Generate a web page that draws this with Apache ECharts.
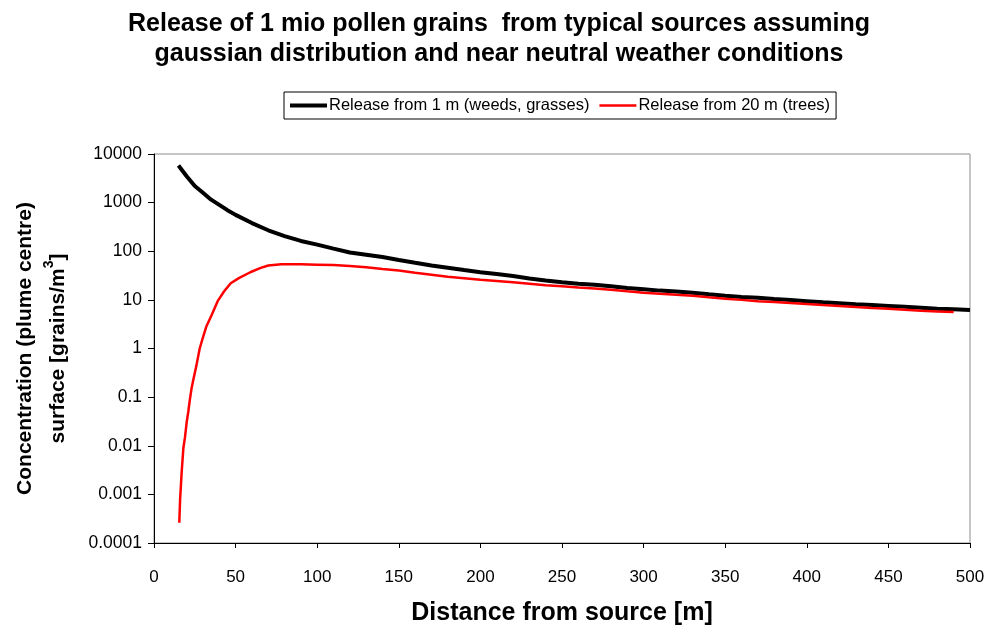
<!DOCTYPE html>
<html>
<head>
<meta charset="utf-8">
<script src="https://cdn.jsdelivr.net/npm/echarts@6/dist/echarts.min.js"></script>
<style>
  html, body { margin: 0; padding: 0; background: #fff; }
  #chart { width: 988px; height: 625px; }
</style>
</head>
<body>
<div id="chart"></div>
<script>
// distances (m) and concentrations
const weedsX = [15, 20, 25, 30, 35, 40, 45, 50, 60, 70, 80, 90, 100, 110, 120, 130, 140, 150,
  160, 170, 180, 190, 200, 210, 220, 230, 240, 250, 260, 270, 280, 290, 300, 310, 320, 330,
  340, 350, 360, 370, 380, 390, 400, 410, 420, 430, 440, 450, 460, 470, 480, 490, 500]
const weedsY = [5800, 3500, 2200, 1600, 1150, 900, 700, 560, 380, 270, 205, 163, 137, 113, 94, 85, 76, 66,
  58, 51, 46, 41, 37, 34, 31, 27.5, 25, 23, 21.5, 20.5, 19, 17.5, 16.5, 15.5, 14.8, 14,
  13, 12.2, 11.5, 11, 10.4, 9.9, 9.4, 8.9, 8.5, 8.1, 7.8, 7.5, 7.2, 6.9, 6.6, 6.4, 6.2]

const treesX = [15.5, 16, 17, 18, 19, 20, 21, 22, 23, 24, 26, 28, 30, 32, 35, 39, 43, 47, 52, 59, 65, 70,
  78, 90, 100, 110, 120, 130, 140, 150, 160, 170, 180, 190, 200, 210, 220, 230, 240, 250,
  260, 270, 280, 290, 300, 310, 320, 330, 340, 350, 360, 370, 380, 390, 400, 410, 420, 430,
  440, 450, 460, 470, 480, 490]
const treesY = [0.00026, 0.0008, 0.003, 0.009, 0.015, 0.03, 0.05, 0.09, 0.15, 0.22, 0.45, 1.0, 1.7, 2.8, 4.6, 9.4, 15, 22, 28, 37, 45, 51,
  54, 54, 53, 52, 50, 47, 43, 40, 36, 33, 30, 28, 26, 24.5, 23, 21.5, 20, 19,
  18, 17.2, 16.2, 15, 14, 13.3, 12.7, 12.2, 11.3, 10.6, 10, 9.4, 9, 8.6, 8.2, 7.8, 7.5, 7.1,
  6.8, 6.6, 6.3, 6, 5.8, 5.6]

const seriesNames = ["Release from 1 m (weeds, grasses)", "Release from 20 m (trees)"]
const xTicks = { min: 0, max: 500, interval: 50 }
const yTicks = { min: 0.0001, max: 10000 }

const font = "Liberation Sans, Arial, sans-serif"
const pair = (xs, ys) => xs.map((x, i) => [x, ys[i]])

const chart = echarts.init(document.getElementById("chart"))

const option = {
  backgroundColor: "#fff",
  animation: false,
  title: {
    text: "Release of 1 mio pollen grains  from typical sources assuming\ngaussian distribution and near neutral weather conditions",
    left: 494,
    top: 4,
    textAlign: "center",
    textStyle: {
      fontFamily: font,
      fontSize: 25,
      fontWeight: "bold",
      color: "#000",
      lineHeight: 30,
    },
  },
  legend: {
    left: 284,
    top: 92,
    padding: [5, 6, 5, 6],
    itemWidth: 37,
    itemHeight: 4,
    itemGap: 10,
    borderColor: "#000",
    borderWidth: 1,
    borderRadius: 0,
    textStyle: { fontFamily: font, fontSize: 16.5, color: "#000", padding: [0, 0, 0, -3] },
    data: [
      { name: seriesNames[0], icon: "rect" },
      // extra move-to points keep the icon box 4px tall while the red stroke stays thin
      { name: seriesNames[1], icon: "path://M0,0 M0,4 M0,0.75 L37,0.75 L37,3.25 L0,3.25 Z" },
    ],
  },
  grid: {
    left: 154,
    right: 18,
    top: 154,
    bottom: 82,
    outerBoundsMode: "none",
    show: true,
    borderColor: "#8c8c8c",
    borderWidth: 1,
  },
  xAxis: {
    type: "value",
    min: xTicks.min,
    max: xTicks.max,
    interval: xTicks.interval,
    name: "Distance from source [m]",
    nameLocation: "middle",
    nameGap: 58,
    nameTextStyle: { fontFamily: font, fontSize: 25, fontWeight: "bold", color: "#000" },
    axisLine: { show: true, lineStyle: { color: "#000", width: 1 } },
    axisTick: { show: true, inside: false, length: 5, lineStyle: { color: "#000" } },
    axisLabel: { fontFamily: font, fontSize: 17, color: "#000", margin: 26 },
    splitLine: { show: false },
  },
  yAxis: {
    type: "log",
    logBase: 10,
    min: yTicks.min,
    max: yTicks.max,
    name: "{a|Concentration (plume centre)}\n{a|surface [grains/m}{s|3}{a|]}",
    nameLocation: "middle",
    nameRotate: 90,
    nameGap: 79,
    nameTextStyle: {
      rich: {
        a: { fontFamily: font, fontSize: 21, fontWeight: "bold", color: "#000", lineHeight: 33 },
        s: { fontFamily: font, fontSize: 14, fontWeight: "bold", color: "#000", lineHeight: 33, verticalAlign: "top", padding: [0, 0, 10, 0] },
      },
    },
    axisLine: { show: true, lineStyle: { color: "#000", width: 1 } },
    axisTick: { show: true, inside: false, length: 6, lineStyle: { color: "#000" } },
    axisLabel: {
      fontFamily: font,
      fontSize: 17.5,
      color: "#000",
      margin: 12,
      formatter: (v) => String(Number(v.toPrecision(1))),
    },
    splitLine: { show: false },
  },
  series: [
    {
      name: seriesNames[0],
      type: "line",
      symbol: "none",
      smooth: false,
      data: pair(weedsX, weedsY),
      lineStyle: { color: "#000", width: 4 },
      itemStyle: { color: "#000" },
    },
    {
      name: seriesNames[1],
      type: "line",
      symbol: "none",
      smooth: false,
      data: pair(treesX, treesY),
      lineStyle: { color: "#ff0000", width: 2.5 },
      itemStyle: { color: "#ff0000" },
    },
  ],
}

chart.setOption(option)
</script>
</body>
</html>
